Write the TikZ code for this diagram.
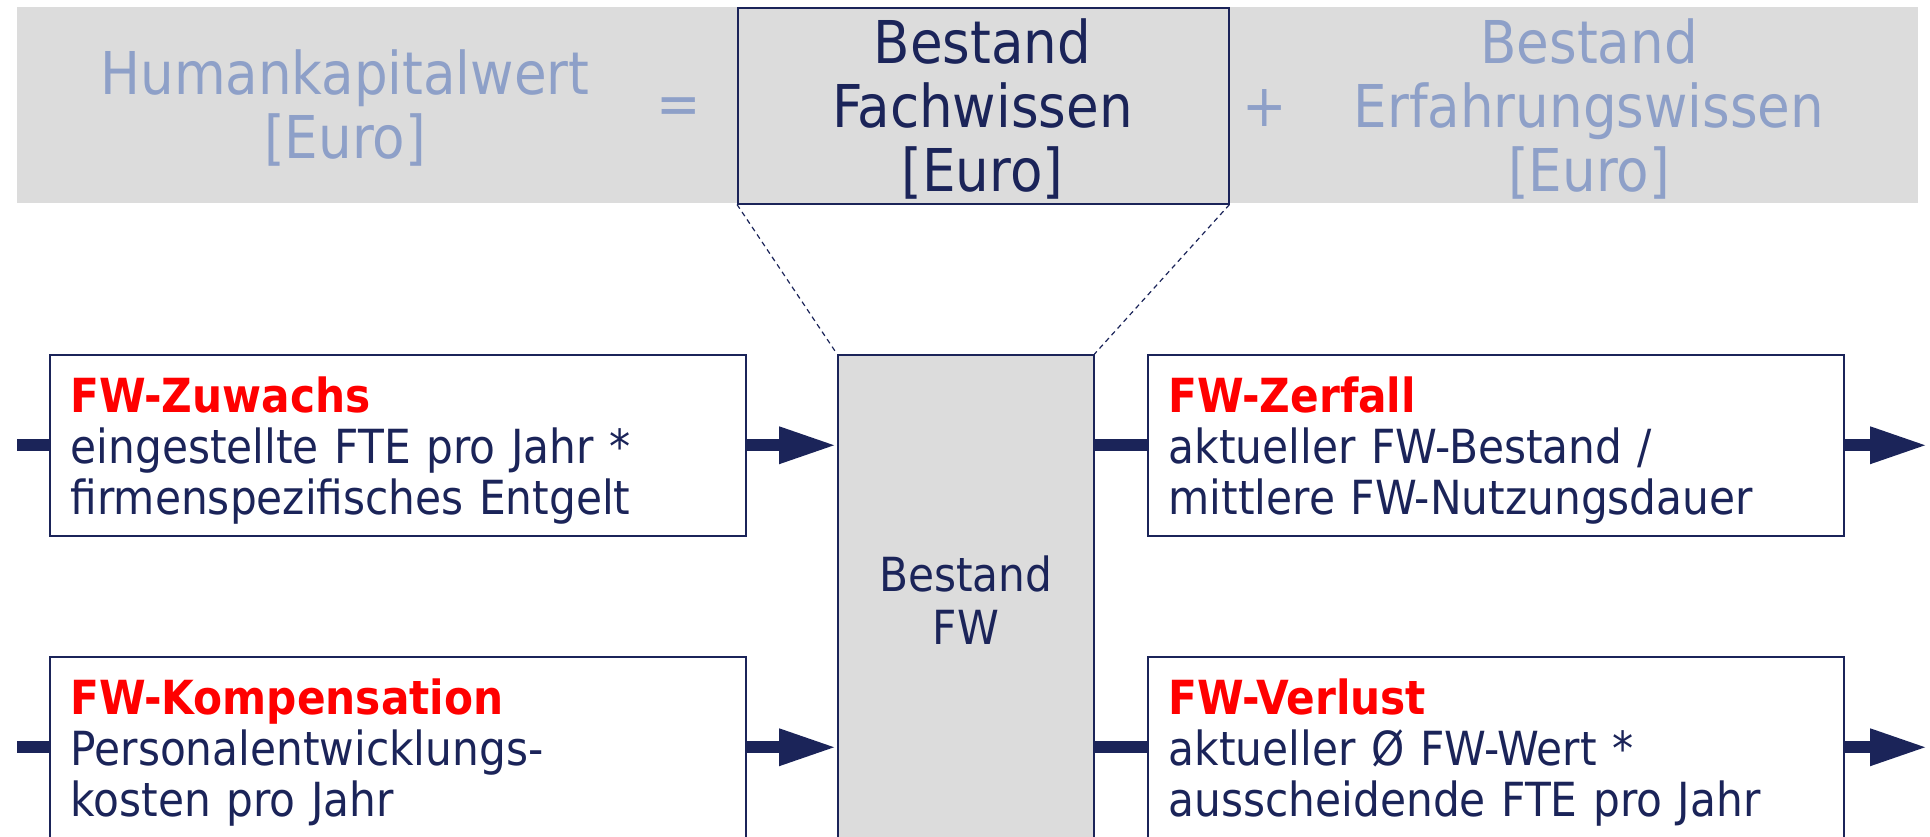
\documentclass[tikz,border=0pt]{standalone}
\usepackage{fontspec}
\setmainfont{DejaVu Sans Condensed}
\usetikzlibrary{arrows.meta}
\definecolor{navy}{RGB}{27,36,89}
\definecolor{lblue}{RGB}{142,160,200}
\definecolor{bandgray}{RGB}{220,220,220}
\definecolor{titlered}{RGB}{255,0,0}
\tikzset{
  bigtext/.style={font=\fontsize{59}{64}\selectfont, align=center, inner sep=0pt},
  infobox/.style={draw=navy, line width=1.5pt, fill=white, anchor=north west,
    minimum width=696pt, minimum height=181pt, text width=654pt, inner xsep=21pt,
    inner ysep=0pt, align=left, text=navy, font=\fontsize{47}{51}\selectfont},
  flow/.style={draw=navy, line width=12pt},
  flowarrow/.style={flow, -{Triangle[length=58pt,width=34pt]}},
  zoomline/.style={draw=navy, line width=1.2pt, dash pattern=on 5pt off 4pt},
}
\newcommand{\ttl}[1]{\rule{0pt}{46pt}\textcolor{titlered}{\bfseries #1}}
\begin{document}
\begin{tikzpicture}[x=1pt,y=-1pt]
\useasboundingbox (0,0) rectangle (1930,836);
\clip (0,0) rectangle (1930,836);
% grey band
\fill[bandgray] (17,7) rectangle (1918,203);
\node[draw=navy, line width=1.5pt, fill=bandgray, anchor=north west,
  minimum width=491pt, minimum height=196pt, inner sep=0pt] (fach) at (737,7) {};
\node[bigtext, text=navy] (fachtxt) at (982.5,109) {Bestand\\Fachwissen\\{[Euro]}};
\node[bigtext, text=lblue] (hk) at (345,108) {Humankapitalwert\\{[Euro]}};
\node[bigtext, text=lblue] (eq) at (679,111) {=};
\node[bigtext, text=lblue] (plus) at (1265,108) {+};
\node[bigtext, text=lblue] (ew) at (1589,109) {Bestand\\Erfahrungswissen\\{[Euro]}};
% stock box
\node[draw=navy, line width=1.5pt, fill=bandgray, anchor=north west,
  minimum width=256pt, minimum height=490pt, inner sep=0pt, align=center, text=navy,
  font=\fontsize{47}{53}\selectfont] (fw) at (837,354) {Bestand\\FW};
\draw[zoomline] (fach.south west) -- (fw.north west);
\draw[zoomline] (fach.south east) -- (fw.north east);
% flow boxes
\node[infobox] (zu) at (49,354) {\ttl{FW-Zuwachs}\\eingestellte FTE pro Jahr *\\firmenspezifisches Entgelt};
\node[infobox] (kom) at (49,656) {\ttl{FW-Kompensation}\\Personalentwicklungs-\\kosten pro Jahr};
\node[infobox] (zer) at (1147,354) {\ttl{FW-Zerfall}\\aktueller FW-Bestand /\\mittlere FW-Nutzungsdauer};
\node[infobox] (ver) at (1147,656) {\ttl{FW-Verlust}\\aktueller Ø FW-Wert *\\ausscheidende FTE pro Jahr};
% connectors
\coordinate (in1) at (17,0 |- zu.west);
\coordinate (in2) at (17,0 |- kom.west);
\coordinate (out1) at (1928,0 |- zer.east);
\coordinate (out2) at (1928,0 |- ver.east);
\draw[flow] (in1 |- zu.west) -- (zu.west);
\draw[flow] (in2 |- kom.west) -- (kom.west);
\draw[flowarrow] (zu.east) -- (zu.east -| fw.west);
\draw[flowarrow] (kom.east) -- (kom.east -| fw.west);
\draw[flow] (zer.west -| fw.east) -- (zer.west);
\draw[flow] (ver.west -| fw.east) -- (ver.west);
\draw[flowarrow] (zer.east) -- (out1 |- zer.east);
\draw[flowarrow] (ver.east) -- (out2 |- ver.east);
\end{tikzpicture}
\end{document}
